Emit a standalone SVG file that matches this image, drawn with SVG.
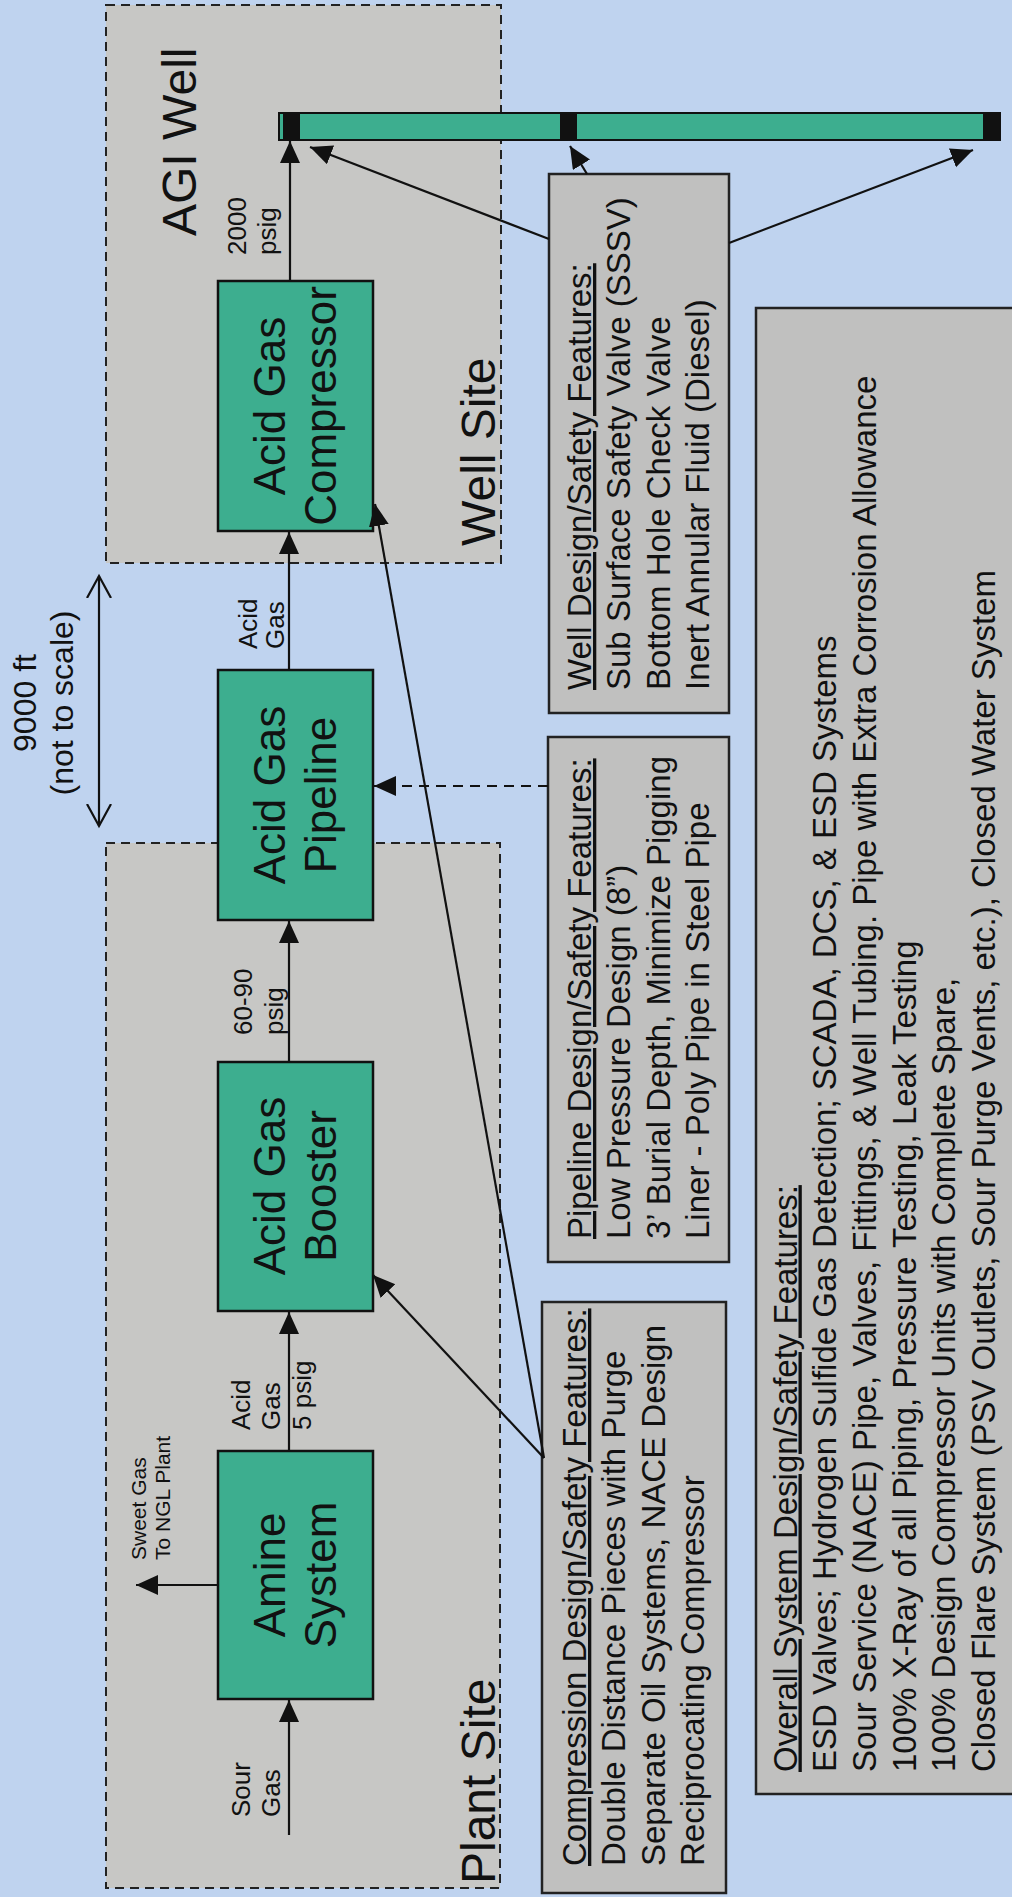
<svg xmlns="http://www.w3.org/2000/svg" width="1012" height="1897" viewBox="0 0 1012 1897">
<defs>
<style>
text{font-family:"Liberation Sans",Arial,sans-serif;fill:#111}
.site{fill:#c7c7c5;stroke:#222;stroke-width:2;stroke-dasharray:9 6}
.proc{fill:#3dae8f;stroke:#111;stroke-width:2.5}
.note{fill:#c0c0bf;stroke:#222;stroke-width:2.5}
.big{font-size:44px;text-anchor:middle}
.site-t{font-size:48px}
.lbl{font-size:26px}
.nt{font-size:33px}
.u{text-decoration:underline}
.ln{stroke:#111;stroke-width:2.2;fill:none}
.dash{stroke-dasharray:10 7}
</style>
<marker id="ah" markerUnits="userSpaceOnUse" markerWidth="24" markerHeight="22" refX="22" refY="10" orient="auto">
<path d="M0,0 L22,10 L0,20 z" fill="#111"/>
</marker>
<marker id="open" markerUnits="userSpaceOnUse" markerWidth="26" markerHeight="28" refX="22" refY="13" orient="auto-start-reverse">
<path d="M0,1 L22,13 L0,25" fill="none" stroke="#111" stroke-width="2.2"/>
</marker>
</defs>
<rect width="1012" height="1897" fill="#bfd3ef"/>

<g id="well-site">
<rect class="site" x="106" y="5" width="395" height="558"/>
<text class="site-t" x="196" y="236" transform="rotate(-90 196 236)">AGI Well</text>
<text class="site-t" x="495" y="546" transform="rotate(-90 495 546)">Well Site</text>
</g>
<g id="plant-site">
<rect class="site" x="106" y="843" width="394" height="1045"/>
<text class="site-t" x="495" y="1884" transform="rotate(-90 495 1884)">Plant Site</text>
</g>

<g id="distance">
<text style="font-size:32px;text-anchor:middle" x="36" y="703" transform="rotate(-90 36 703)">9000 ft</text>
<text style="font-size:32px;text-anchor:middle" x="73" y="703" transform="rotate(-90 73 703)">(not to scale)</text>
</g>

<g id="amine-system">
<rect class="proc" x="218" y="1451" width="155" height="248"/>
<g transform="translate(285 1575) rotate(-90)"><text class="big" x="0" y="0">Amine</text><text class="big" x="0" y="51">System</text></g>
</g>
<g id="acid-gas-booster">
<rect class="proc" x="218" y="1062" width="155" height="249"/>
<g transform="translate(285 1186) rotate(-90)"><text class="big" x="0" y="0">Acid Gas</text><text class="big" x="0" y="51">Booster</text></g>
</g>
<g id="acid-gas-pipeline">
<rect class="proc" x="218" y="670" width="155" height="250"/>
<g transform="translate(285 795) rotate(-90)"><text class="big" x="0" y="0">Acid Gas</text><text class="big" x="0" y="51">Pipeline</text></g>
</g>
<g id="acid-gas-compressor">
<rect class="proc" x="218" y="281" width="155" height="250"/>
<g transform="translate(285 406) rotate(-90)"><text class="big" x="0" y="0">Acid Gas</text><text class="big" x="0" y="51">Compressor</text></g>
</g>

<g id="agi-well">
<rect x="279" y="113" width="721" height="27" fill="#3dae8f" stroke="#111" stroke-width="2"/>
<rect x="283" y="113" width="17" height="27" fill="#111"/>
<rect x="560" y="113" width="17" height="27" fill="#111"/>
<rect x="983" y="113" width="17" height="27" fill="#111"/>
</g>

<g id="well-notes">
<rect class="note" x="549" y="174" width="180" height="539"/>
<g transform="translate(591 690) rotate(-90)">
<text class="nt u" x="0" y="0">Well Design/Safety Features:</text>
<text class="nt" x="0" y="39.3">Sub Surface Safety Valve (SSSV)</text>
<text class="nt" x="0" y="78.6">Bottom Hole Check Valve</text>
<text class="nt" x="0" y="117.9">Inert Annular Fluid (Diesel)</text>
</g>
</g>
<g id="pipeline-notes">
<rect class="note" x="548" y="737" width="181" height="525"/>
<g transform="translate(591 1239) rotate(-90)">
<text class="nt u" x="0" y="0">Pipeline Design/Safety Features:</text>
<text class="nt" x="0" y="39.3">Low Pressure Design (8”)</text>
<text class="nt" x="0" y="78.6">3’ Burial Depth, Minimize Pigging</text>
<text class="nt" x="0" y="117.9">Liner - Poly Pipe in Steel Pipe</text>
</g>
</g>
<g id="compression-notes">
<rect class="note" x="542" y="1302" width="184" height="591"/>
<g transform="translate(586 1866) rotate(-90)">
<text class="nt u" x="0" y="0">Compression Design/Safety Features:</text>
<text class="nt" x="0" y="39.3">Double Distance Pieces with Purge</text>
<text class="nt" x="0" y="78.6">Separate Oil Systems, NACE Design</text>
<text class="nt" x="0" y="117.9">Reciprocating Compressor</text>
</g>
</g>
<g id="overall-notes">
<rect class="note" x="756" y="308" width="270" height="1486"/>
<g transform="translate(796.5 1772) rotate(-90)">
<text class="nt u" x="0" y="0">Overall System Design/Safety Features:</text>
<text class="nt" x="0" y="39.7">ESD Valves; Hydrogen Sulfide Gas Detection; SCADA, DCS, &amp; ESD Systems</text>
<text class="nt" x="0" y="79.4">Sour Service (NACE) Pipe, Valves, Fittings, &amp; Well Tubing. Pipe with Extra Corrosion Allowance</text>
<text class="nt" x="0" y="119.1">100% X-Ray of all Piping, Pressure Testing, Leak Testing</text>
<text class="nt" x="0" y="158.8">100% Design Compressor Units with Complete Spare,</text>
<text class="nt" x="0" y="198.5">Closed Flare System (PSV Outlets, Sour Purge Vents, etc.), Closed Water System</text>
</g>
</g>

<g id="connectors">
<line class="ln" x1="289" y1="1835" x2="289" y2="1700" marker-end="url(#ah)"/>
<line class="ln" x1="289" y1="1451" x2="289" y2="1312" marker-end="url(#ah)"/>
<line class="ln" x1="289" y1="1062" x2="289" y2="921" marker-end="url(#ah)"/>
<line class="ln" x1="289" y1="670" x2="289" y2="532" marker-end="url(#ah)"/>
<line class="ln" x1="290" y1="281" x2="290" y2="141" marker-end="url(#ah)"/>
<line class="ln" x1="218" y1="1585" x2="136" y2="1585" marker-end="url(#ah)"/>
<line class="ln" x1="544" y1="1458" x2="373" y2="1275" marker-end="url(#ah)"/>
<line class="ln" x1="544" y1="1458" x2="375" y2="504" marker-end="url(#ah)"/>
<line class="ln dash" x1="548" y1="786" x2="374" y2="786" marker-end="url(#ah)"/>
<line class="ln" x1="549" y1="239" x2="310" y2="147" marker-end="url(#ah)"/>
<line class="ln" x1="587" y1="174" x2="570" y2="146" marker-end="url(#ah)"/>
<line class="ln" x1="729" y1="243" x2="973" y2="150" marker-end="url(#ah)"/>
<line class="ln" x1="99" y1="576" x2="99" y2="826" marker-start="url(#open)" marker-end="url(#open)"/>
<text class="lbl" x="246" y="255" transform="rotate(-90 246 255)">2000</text>
<text class="lbl" x="276" y="255" transform="rotate(-90 276 255)">psig</text>
<text class="lbl" x="257" y="649" transform="rotate(-90 257 649)">Acid</text>
<text class="lbl" x="284" y="649" transform="rotate(-90 284 649)">Gas</text>
<text class="lbl" x="252" y="1035" transform="rotate(-90 252 1035)">60-90</text>
<text class="lbl" x="283" y="1035" transform="rotate(-90 283 1035)">psig</text>
<text class="lbl" x="250" y="1430" transform="rotate(-90 250 1430)">Acid</text>
<text class="lbl" x="280" y="1430" transform="rotate(-90 280 1430)">Gas</text>
<text class="lbl" x="311" y="1430" transform="rotate(-90 311 1430)">5 psig</text>
<text class="lbl" x="250" y="1817" transform="rotate(-90 250 1817)">Sour</text>
<text class="lbl" x="280" y="1817" transform="rotate(-90 280 1817)">Gas</text>
<text style="font-size:21px" x="146" y="1560" transform="rotate(-90 146 1560)">Sweet Gas</text>
<text style="font-size:21px" x="170" y="1560" transform="rotate(-90 170 1560)">To NGL Plant</text>
</g>
</svg>
